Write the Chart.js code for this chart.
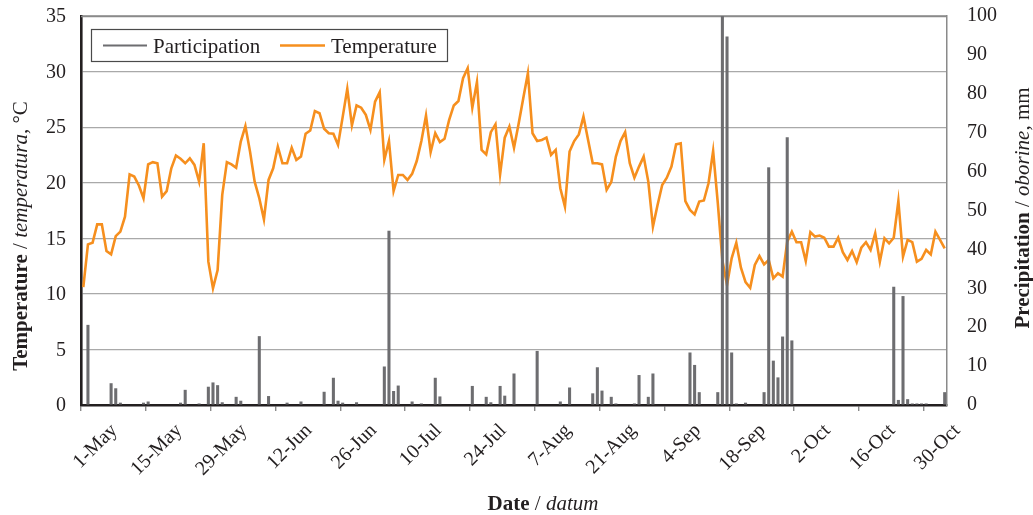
<!DOCTYPE html>
<html>
<head>
<meta charset="utf-8">
<title>Temperature and precipitation</title>
<script src="https://cdn.jsdelivr.net/npm/chart.js@4.4.1/dist/chart.umd.min.js"></script>
<style>
  html, body { margin: 0; padding: 0; background: #ffffff; }
  #wrap { position: relative; width: 1033px; height: 515px; }
</style>
</head>
<body>
<div id="wrap"><canvas id="chart" width="1033" height="515"></canvas></div>
<script>
// Season: daily records starting 1 May
const startMonth = 4;            // May (0-based)
const dayCount = 187;
const tickEvery = 14;            // a labelled tick every two weeks
const monthNames = ['Jan','Feb','Mar','Apr','May','Jun','Jul','Aug','Sep','Oct','Nov','Dec'];
const monthLengths = [31,28,31,30,31,30,31,31,30,31,30,31];

// Daily mean air temperature, °C
const temperature = [
  10.6, 14.45, 14.6, 16.25, 16.25, 13.85, 13.55, 15.2, 15.6, 16.95, 20.75, 20.55, 19.75, 18.6,
  21.65, 21.85, 21.75, 18.75, 19.25, 21.3, 22.45, 22.15, 21.75, 22.2, 21.6, 20.1, 23.55, 12.9,
  10.5, 12.15, 18.9, 21.85, 21.65, 21.35, 23.7, 25.1, 22.8, 20.1, 18.6, 16.7, 20.25, 21.3,
  23.25, 21.75, 21.75, 23.15, 22.05, 22.35, 24.4, 24.7, 26.45, 26.25, 24.85, 24.45, 24.4, 23.4,
  25.9, 28.45, 25.15, 26.95, 26.75, 26.1, 24.75, 27.3, 28.15, 22.05, 23.75, 19.25, 20.7, 20.7,
  20.25, 20.8, 21.95, 23.75, 26.05, 22.75, 24.45, 23.65, 23.95, 25.65, 26.95, 27.35, 29.4, 30.3,
  26.75, 29.05, 22.95, 22.55, 24.55, 25.25, 20.75, 24.05, 25.05, 23.15, 25.3, 27.6, 29.85, 24.45,
  23.75, 23.85, 24.05, 22.5, 22.95, 19.5, 17.85, 22.8, 23.75, 24.35, 25.95, 23.85, 21.75, 21.75,
  21.65, 19.35, 20.05, 22.35, 23.75, 24.55, 21.75, 20.45, 21.45, 22.35, 20.1, 16.05, 18.0, 19.8,
  20.45, 21.45, 23.45, 23.55, 18.35, 17.55, 17.15, 18.3, 18.4, 19.95, 22.85, 18.2, 13.0, 10.8,
  13.2, 14.6, 12.35, 11.05, 10.55, 12.6, 13.4, 12.65, 13.05, 11.4, 11.85, 11.55, 14.7, 15.6,
  14.65, 14.65, 12.95, 15.55, 15.15, 15.25, 15.05, 14.25, 14.25, 15.05, 13.75, 13.05, 13.85, 12.85,
  14.15, 14.65, 13.95, 15.45, 12.9, 15.0, 14.55, 15.05, 18.35, 13.35, 14.85, 14.65, 12.9, 13.15,
  13.95, 13.55, 15.6, 14.85, 14.1
];

// Daily precipitation, mm
const precipitation = [
  0, 20.6, 0, 0, 0, 0, 5.6, 4.3, 0.6, 0, 0, 0, 0, 0.6,
  0.9, 0, 0, 0, 0, 0, 0, 0.6, 3.9, 0, 0, 0.4, 0, 4.7,
  5.8, 5.1, 0.7, 0, 0, 2.1, 1.1, 0, 0, 0, 17.7, 0, 2.3, 0,
  0, 0, 0.6, 0, 0, 0.9, 0, 0, 0, 0, 3.4, 0, 7.0, 1.1,
  0.6, 0, 0, 0.7, 0, 0, 0, 0, 0, 9.9, 44.8, 3.6, 5.0, 0,
  0, 0.9, 0, 0.4, 0, 0, 7.0, 2.2, 0, 0, 0, 0, 0, 0,
  4.9, 0, 0, 2.1, 0.7, 0, 4.9, 2.4, 0, 8.1, 0, 0, 0, 0,
  13.9, 0, 0, 0, 0, 0.9, 0, 4.5, 0, 0, 0, 0, 3.0, 9.7,
  3.7, 0, 2.1, 0.4, 0, 0, 0, 0.4, 7.7, 0, 2.1, 8.1, 0, 0,
  0, 0, 0, 0, 0, 13.5, 10.3, 3.3, 0, 0, 0, 3.3, 100, 94.7,
  13.5, 0.4, 0, 0.6, 0, 0, 0, 3.3, 61.1, 11.4, 7.1, 17.6, 68.8, 16.6,
  0, 0, 0, 0, 0, 0, 0, 0, 0, 0, 0, 0, 0, 0,
  0, 0, 0, 0, 0, 0, 0, 30.4, 1.3, 28.0, 1.5, 0.4, 0.4, 0.4,
  0.4, 0, 0, 0, 3.3
];

// Axis ranges
const tempTicks = { min: 0, max: 35, step: 5 };
const precTicks = { min: 0, max: 100, step: 10 };

// Series names
const seriesNames = ['Participation', 'Temperature'];

// Day labels such as "1-May", "2-May", ...
const dayLabels = [];
{
  let m = startMonth, d = 1;
  for (let i = 0; i < dayCount; i++) {
    dayLabels.push(d + '-' + monthNames[m]);
    d++;
    if (d > monthLengths[m]) { d = 1; m = (m + 1) % 12; }
  }
}

const INK = '#231f20';
const BAR = '#6d6d70';
const ORANGE = '#f68f1e';
const SERIF = '"Liberation Serif", "Times New Roman", serif';
const CLEAR = 'rgba(0,0,0,0)';

// Draws a sequence of differently styled text runs centred on (x, y)
function drawRuns(ctx, runs, x, y, angle) {
  ctx.save();
  ctx.translate(x, y);
  ctx.rotate(angle);
  ctx.textBaseline = 'alphabetic';
  ctx.textAlign = 'left';
  let total = 0;
  const widths = runs.map(r => { ctx.font = r.font; const w = ctx.measureText(r.text).width; total += w; return w; });
  let cx = -total / 2;
  runs.forEach((r, i) => {
    ctx.font = r.font;
    ctx.fillStyle = INK;
    ctx.fillText(r.text, cx, 0);
    cx += widths[i];
  });
  ctx.restore();
}

const framePlugin = {
  id: 'frame',
  beforeDatasetsDraw(chart) {
    const { ctx, chartArea: a } = chart;
    ctx.save();
    ctx.strokeStyle = '#8a8a8a';
    ctx.lineWidth = 1.5;
    ctx.beginPath();
    ctx.moveTo(a.left, a.top + 0.5);
    ctx.lineTo(a.right, a.top + 0.5);
    ctx.stroke();
    ctx.restore();
  },
  afterDraw(chart) {
    const { ctx } = chart;
    // legend box
    ctx.save();
    ctx.fillStyle = '#ffffff';
    ctx.fillRect(91, 29, 357, 33);
    ctx.strokeStyle = '#4a4a4a';
    ctx.lineWidth = 1.2;
    ctx.strokeRect(91.5, 29.5, 356, 32);
    ctx.lineCap = 'butt';
    ctx.strokeStyle = BAR;
    ctx.lineWidth = 2;
    ctx.beginPath(); ctx.moveTo(103, 45.5); ctx.lineTo(147, 45.5); ctx.stroke();
    ctx.strokeStyle = ORANGE;
    ctx.lineWidth = 2.6;
    ctx.beginPath(); ctx.moveTo(280, 45.5); ctx.lineTo(325, 45.5); ctx.stroke();
    ctx.fillStyle = INK;
    ctx.font = '21px ' + SERIF;
    ctx.textBaseline = 'alphabetic';
    ctx.fillText(seriesNames[0], 153, 53);
    ctx.fillText(seriesNames[1], 331, 53);
    ctx.restore();

    // axis titles
    const B = 'bold 21px ' + SERIF, N = '21px ' + SERIF, I = 'italic 21px ' + SERIF;
    drawRuns(ctx, [
      { text: 'Temperature', font: B }, { text: ' / ', font: N },
      { text: 'temperatura', font: I }, { text: ', °C', font: N }
    ], 27, 236, -Math.PI / 2);
    drawRuns(ctx, [
      { text: 'Precipitation', font: B }, { text: ' / ', font: N },
      { text: 'oborine', font: I }, { text: ', mm', font: N }
    ], 1029, 208, -Math.PI / 2);
    drawRuns(ctx, [
      { text: 'Date', font: B }, { text: ' / ', font: N }, { text: 'datum', font: I }
    ], 543, 510, 0);
  }
};

new Chart(document.getElementById('chart'), {
  type: 'bar',
  data: {
    labels: dayLabels,
    datasets: [
      {
        type: 'bar',
        label: seriesNames[0],
        data: precipitation,
        yAxisID: 'y2',
        backgroundColor: BAR,
        borderWidth: 0,
        categoryPercentage: 1,
        barPercentage: 0.66,
        order: 1
      },
      {
        type: 'line',
        label: seriesNames[1],
        data: temperature,
        yAxisID: 'y',
        borderColor: ORANGE,
        borderWidth: 2.6,
        pointRadius: 0,
        tension: 0,
        fill: false,
        order: 2
      }
    ]
  },
  options: {
    responsive: false,
    animation: false,
    devicePixelRatio: 1,
    layout: { padding: { top: 16, left: 0, right: 0, bottom: 0 } },
    plugins: { legend: { display: false }, tooltip: { enabled: false } },
    scales: {
      x: {
        type: 'category',
        offset: true,
        grid: {
          offset: true,
          drawOnChartArea: false,
          drawTicks: true,
          tickLength: 6,
          lineWidth: 1.4,
          color: c => (c.index % tickEvery === 0 ? '#8a8a8a' : CLEAR),
          tickColor: c => (c.index % tickEvery === 0 ? '#8a8a8a' : CLEAR)
        },
        border: { display: true, color: INK, width: 2.4 },
        ticks: {
          autoSkip: false,
          maxRotation: 45,
          minRotation: 45,
          labelOffset: 31,
          padding: 8,
          color: INK,
          font: { family: SERIF, size: 20 },
          callback: function (value, index) {
            return index % tickEvery === 0 ? this.getLabelForValue(value) : '';
          }
        },
        afterFit: s => { s.height = 110; }
      },
      y: {
        position: 'left',
        min: tempTicks.min,
        max: tempTicks.max,
        grid: { color: '#a9a9a9', lineWidth: 1.2, drawTicks: true, tickLength: 15, tickColor: CLEAR },
        border: { display: true, color: INK, width: 2.6 },
        ticks: {
          stepSize: tempTicks.step,
          padding: 0,
          labelOffset: 1,
          color: INK,
          font: { family: SERIF, size: 20 }
        },
        afterFit: s => { s.width = 81; }
      },
      y2: {
        position: 'right',
        min: precTicks.min,
        max: precTicks.max,
        grid: { drawOnChartArea: false, drawTicks: true, tickLength: 20, tickColor: CLEAR },
        border: { display: true, color: '#8a8a8a', width: 1.5 },
        ticks: {
          stepSize: precTicks.step,
          padding: 0,
          color: INK,
          font: { family: SERIF, size: 20 }
        },
        afterFit: s => { s.width = 86; }
      }
    }
  },
  plugins: [framePlugin]
});
</script>
</body>
</html>
